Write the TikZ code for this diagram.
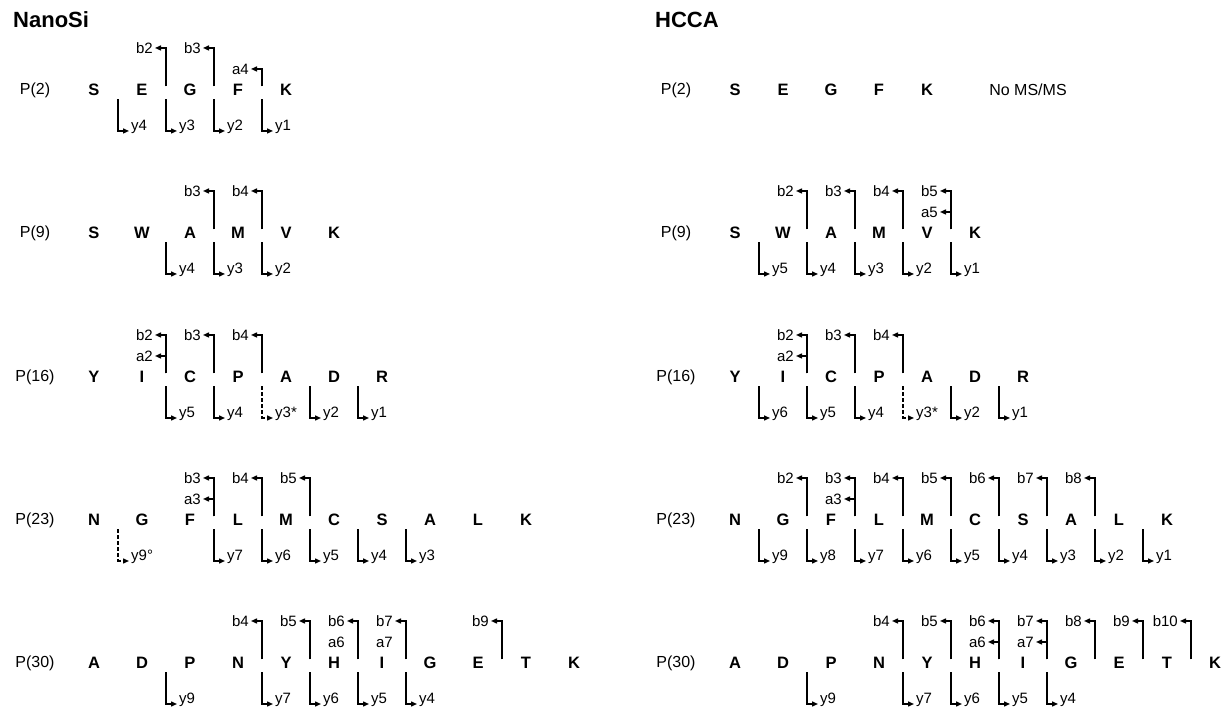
\documentclass[tikz,border=0pt]{standalone}
\usepackage{fontspec}
\setmainfont{Liberation Sans}
\usetikzlibrary{arrows.meta}

\begin{document}
\begin{tikzpicture}[x=1pt, y=1pt, >={Triangle[length=6pt, width=5pt]},
  res/.style={font=\fontsize{16.5}{18}\selectfont\bfseries, inner sep=0pt},
  plab/.style={font=\fontsize{16}{18}\selectfont, inner sep=0pt},
  ionlab/.style={font=\fontsize{15}{17}\selectfont, inner xsep=2pt, inner ysep=1pt},
  frag/.style={->, line width=1.4pt},
  fragdash/.style={frag, dash pattern=on 4pt off 2pt},
  paneltitle/.style={font=\fontsize{22}{26}\selectfont\bfseries, anchor=west, inner sep=0pt}]

\useasboundingbox (0,0) rectangle (1230,708);

% Titles
\node[paneltitle] (nanosi) at (13,688) {NanoSi};
\node[paneltitle] (hcca) at (655,688) {HCCA};

% Peptide labels
\node[plab] (NS2) at (35,618) {P(2)};
\node[plab] (NS9) at (35,475) {P(9)};
\node[plab] (NS16) at (35,331) {P(16)};
\node[plab] (NS23) at (35,188) {P(23)};
\node[plab] (NS30) at (35,45) {P(30)};
\node[plab] (HC2) at (676,618) {P(2)};
\node[plab] (HC9) at (676,475) {P(9)};
\node[plab] (HC16) at (676,331) {P(16)};
\node[plab] (HC23) at (676,188) {P(23)};
\node[plab] (HC30) at (676,45) {P(30)};

% ===== NanoSi =====
% --- P(2) ---
\begin{scope}[shift={(94,618)}]
\foreach \r [count=\i from 0] in {S,E,G,F,K}
  \node[res] (NS2r\i) at (48*\i,0) {\r};
\foreach \k in {2,3} {
  \coordinate (NS2u\k) at (48*\k-24,3.5);
  \node[ionlab, anchor=east] (NS2b\k) at (48*\k-35,42) {b\k};
  \draw[frag] (NS2u\k) |- (NS2b\k.east);
}
\coordinate (NS2u4) at (168,3.5);
\node[ionlab, anchor=east] (NS2a4) at (157,21) {a4};
\draw[frag] (NS2u4) |- (NS2a4.east);
\foreach \k/\c in {4/1,3/2,2/3,1/4} {
  \coordinate (NS2d\c) at (48*\c-24,-9.5);
  \node[ionlab, anchor=base west] (NS2y\k) at (48*\c-13,-41) {y\k};
  \draw[frag] (NS2d\c) |- (NS2y\k.base west);
}
\end{scope}

% --- P(9) ---
\begin{scope}[shift={(94,475)}]
\foreach \r [count=\i from 0] in {S,W,A,M,V,K}
  \node[res] (NS9r\i) at (48*\i,0) {\r};
\foreach \k in {3,4} {
  \coordinate (NS9u\k) at (48*\k-24,3.5);
  \node[ionlab, anchor=east] (NS9b\k) at (48*\k-35,42) {b\k};
  \draw[frag] (NS9u\k) |- (NS9b\k.east);
}
\foreach \k/\c in {4/2,3/3,2/4} {
  \coordinate (NS9d\c) at (48*\c-24,-9.5);
  \node[ionlab, anchor=base west] (NS9y\k) at (48*\c-13,-41) {y\k};
  \draw[frag] (NS9d\c) |- (NS9y\k.base west);
}
\end{scope}

% --- P(16) ---
\begin{scope}[shift={(94,331)}]
\foreach \r [count=\i from 0] in {Y,I,C,P,A,D,R}
  \node[res] (NS16r\i) at (48*\i,0) {\r};
\foreach \k in {2,3,4} {
  \coordinate (NS16u\k) at (48*\k-24,3.5);
  \node[ionlab, anchor=east] (NS16b\k) at (48*\k-35,42) {b\k};
  \draw[frag] (NS16u\k) |- (NS16b\k.east);
}
\node[ionlab, anchor=east] (NS16a2) at (61,21) {a2};
\draw[frag] (NS16u2) |- (NS16a2.east);
\foreach \k/\c in {5/2,4/3,2/5,1/6} {
  \coordinate (NS16d\c) at (48*\c-24,-9.5);
  \node[ionlab, anchor=base west] (NS16y\k) at (48*\c-13,-41) {y\k};
  \draw[frag] (NS16d\c) |- (NS16y\k.base west);
}
\coordinate (NS16d4) at (168,-9.5);
\node[ionlab, anchor=base west] (NS16y3) at (179,-41) {y3*};
\draw[fragdash] (NS16d4) |- (NS16y3.base west);
\end{scope}

% --- P(23) ---
\begin{scope}[shift={(94,188)}]
\foreach \r [count=\i from 0] in {N,G,F,L,M,C,S,A,L,K}
  \node[res] (NS23r\i) at (48*\i,0) {\r};
\foreach \k in {3,4,5} {
  \coordinate (NS23u\k) at (48*\k-24,3.5);
  \node[ionlab, anchor=east] (NS23b\k) at (48*\k-35,42) {b\k};
  \draw[frag] (NS23u\k) |- (NS23b\k.east);
}
\node[ionlab, anchor=east] (NS23a3) at (109,21) {a3};
\draw[frag] (NS23u3) |- (NS23a3.east);
\coordinate (NS23d1) at (24,-9.5);
\node[ionlab, anchor=base west] (NS23y9) at (35,-41) {y9°};
\draw[fragdash] (NS23d1) |- (NS23y9.base west);
\foreach \k/\c in {7/3,6/4,5/5,4/6,3/7} {
  \coordinate (NS23d\c) at (48*\c-24,-9.5);
  \node[ionlab, anchor=base west] (NS23y\k) at (48*\c-13,-41) {y\k};
  \draw[frag] (NS23d\c) |- (NS23y\k.base west);
}
\end{scope}

% --- P(30) ---
\begin{scope}[shift={(94,45)}]
\foreach \r [count=\i from 0] in {A,D,P,N,Y,H,I,G,E,T,K}
  \node[res] (NS30r\i) at (48*\i,0) {\r};
\foreach \k in {4,5,6,7,9} {
  \coordinate (NS30u\k) at (48*\k-24,3.5);
  \node[ionlab, anchor=east] (NS30b\k) at (48*\k-35,42) {b\k};
  \draw[frag] (NS30u\k) |- (NS30b\k.east);
}
% a-ions listed without arrows
\node[ionlab, anchor=east] (NS30a6) at (253,21) {a6};
\node[ionlab, anchor=east] (NS30a7) at (301,21) {a7};
\foreach \k/\c in {9/2,7/4,6/5,5/6,4/7} {
  \coordinate (NS30d\c) at (48*\c-24,-9.5);
  \node[ionlab, anchor=base west] (NS30y\k) at (48*\c-13,-41) {y\k};
  \draw[frag] (NS30d\c) |- (NS30y\k.base west);
}
\end{scope}

% ===== HCCA =====
% --- P(2) ---
\begin{scope}[shift={(735,618)}]
\foreach \r [count=\i from 0] in {S,E,G,F,K}
  \node[res] (HC2r\i) at (48*\i,0) {\r};
\node[plab] (HC2none) at (293,0) {No MS/MS};
\end{scope}

% --- P(9) ---
\begin{scope}[shift={(735,475)}]
\foreach \r [count=\i from 0] in {S,W,A,M,V,K}
  \node[res] (HC9r\i) at (48*\i,0) {\r};
\foreach \k in {2,3,4,5} {
  \coordinate (HC9u\k) at (48*\k-24,3.5);
  \node[ionlab, anchor=east] (HC9b\k) at (48*\k-35,42) {b\k};
  \draw[frag] (HC9u\k) |- (HC9b\k.east);
}
\node[ionlab, anchor=east] (HC9a5) at (205,21) {a5};
\draw[frag] (HC9u5) |- (HC9a5.east);
\foreach \k/\c in {5/1,4/2,3/3,2/4,1/5} {
  \coordinate (HC9d\c) at (48*\c-24,-9.5);
  \node[ionlab, anchor=base west] (HC9y\k) at (48*\c-13,-41) {y\k};
  \draw[frag] (HC9d\c) |- (HC9y\k.base west);
}
\end{scope}

% --- P(16) ---
\begin{scope}[shift={(735,331)}]
\foreach \r [count=\i from 0] in {Y,I,C,P,A,D,R}
  \node[res] (HC16r\i) at (48*\i,0) {\r};
\foreach \k in {2,3,4} {
  \coordinate (HC16u\k) at (48*\k-24,3.5);
  \node[ionlab, anchor=east] (HC16b\k) at (48*\k-35,42) {b\k};
  \draw[frag] (HC16u\k) |- (HC16b\k.east);
}
\node[ionlab, anchor=east] (HC16a2) at (61,21) {a2};
\draw[frag] (HC16u2) |- (HC16a2.east);
\foreach \k/\c in {6/1,5/2,4/3,2/5,1/6} {
  \coordinate (HC16d\c) at (48*\c-24,-9.5);
  \node[ionlab, anchor=base west] (HC16y\k) at (48*\c-13,-41) {y\k};
  \draw[frag] (HC16d\c) |- (HC16y\k.base west);
}
\coordinate (HC16d4) at (168,-9.5);
\node[ionlab, anchor=base west] (HC16y3) at (179,-41) {y3*};
\draw[fragdash] (HC16d4) |- (HC16y3.base west);
\end{scope}

% --- P(23) ---
\begin{scope}[shift={(735,188)}]
\foreach \r [count=\i from 0] in {N,G,F,L,M,C,S,A,L,K}
  \node[res] (HC23r\i) at (48*\i,0) {\r};
\foreach \k in {2,...,8} {
  \coordinate (HC23u\k) at (48*\k-24,3.5);
  \node[ionlab, anchor=east] (HC23b\k) at (48*\k-35,42) {b\k};
  \draw[frag] (HC23u\k) |- (HC23b\k.east);
}
\node[ionlab, anchor=east] (HC23a3) at (109,21) {a3};
\draw[frag] (HC23u3) |- (HC23a3.east);
\foreach \k/\c in {9/1,8/2,7/3,6/4,5/5,4/6,3/7,2/8,1/9} {
  \coordinate (HC23d\c) at (48*\c-24,-9.5);
  \node[ionlab, anchor=base west] (HC23y\k) at (48*\c-13,-41) {y\k};
  \draw[frag] (HC23d\c) |- (HC23y\k.base west);
}
\end{scope}

% --- P(30) ---
\begin{scope}[shift={(735,45)}]
\foreach \r [count=\i from 0] in {A,D,P,N,Y,H,I,G,E,T,K}
  \node[res] (HC30r\i) at (48*\i,0) {\r};
\foreach \k in {4,...,10} {
  \coordinate (HC30u\k) at (48*\k-24,3.5);
  \node[ionlab, anchor=east] (HC30b\k) at (48*\k-35,42) {b\k};
  \draw[frag] (HC30u\k) |- (HC30b\k.east);
}
\foreach \k in {6,7} {
  \node[ionlab, anchor=east] (HC30a\k) at (48*\k-35,21) {a\k};
  \draw[frag] (HC30u\k) |- (HC30a\k.east);
}
\foreach \k/\c in {9/2,7/4,6/5,5/6,4/7} {
  \coordinate (HC30d\c) at (48*\c-24,-9.5);
  \node[ionlab, anchor=base west] (HC30y\k) at (48*\c-13,-41) {y\k};
  \draw[frag] (HC30d\c) |- (HC30y\k.base west);
}
\end{scope}

\end{tikzpicture}
\end{document}
